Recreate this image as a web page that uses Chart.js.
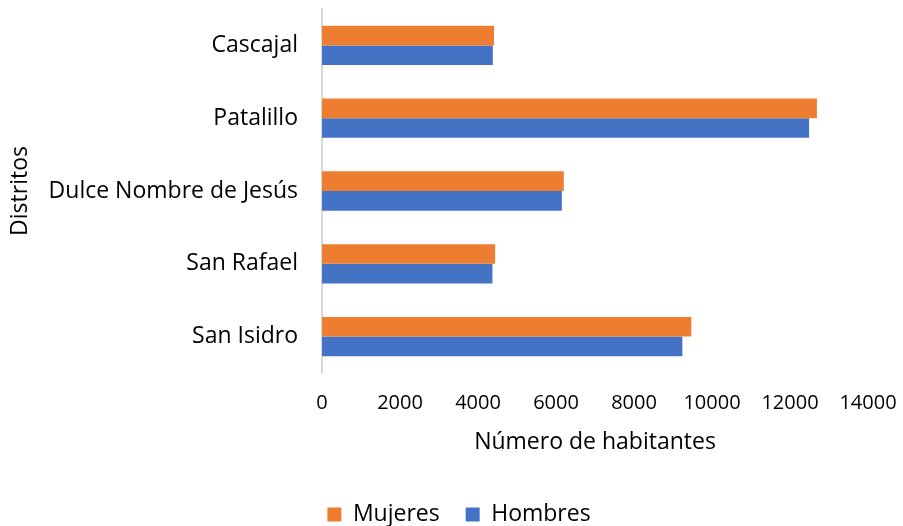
<!DOCTYPE html>
<html>
<head>
<meta charset="utf-8">
<script src="https://cdn.jsdelivr.net/npm/chart.js@4/dist/chart.umd.min.js"></script>
<style>
html,body{margin:0;padding:0;background:#fff;}
#wrap{width:903px;height:526px;}
</style>
</head>
<body>
<div id="wrap"><canvas id="c" width="903" height="526"></canvas></div>
<script>
const categories = ["Cascajal", "Patalillo", "Dulce Nombre de Jesús", "San Rafael", "San Isidro"];
const mujeres = [4410, 12690, 6200, 4440, 9470];
const hombres = [4380, 12490, 6150, 4370, 9240];
const seriesNames = ["Mujeres", "Hombres"];
const xTitle = "Número de habitantes";
const yTitle = "Distritos";

const FONT = "'Open Sans', sans-serif";
Chart.defaults.font.family = FONT;
Chart.defaults.color = "#000";

const shiftLegend = {
  id: "shiftLegend",
  afterLayout: function (chart) {
    if (chart.legend) { chart.legend.left += 25; chart.legend.right += 25; }
  }
};

new Chart(document.getElementById("c"), {
  type: "bar",
  data: {
    labels: categories,
    datasets: [
      { label: seriesNames[0], data: mujeres, backgroundColor: "#ED7D31", categoryPercentage: 0.54, barPercentage: 1.0 },
      { label: seriesNames[1], data: hombres, backgroundColor: "#4472C4", categoryPercentage: 0.54, barPercentage: 1.0 }
    ]
  },
  plugins: [shiftLegend],
  options: {
    indexAxis: "y",
    responsive: false,
    animation: false,
    layout: { padding: { top: 9, right: 35, left: 0, bottom: -10 } },
    scales: {
      x: {
        min: 0, max: 14000,
        grid: { display: false, drawTicks: false },
        border: { display: false },
        ticks: {
          stepSize: 2000, padding: 18, font: { size: 20 }, color: "#000", maxRotation: 0,
          callback: function (v) { return String(v); }
        },
        title: { display: true, text: xTitle, font: { size: 23 }, color: "#000", padding: { top: 4, bottom: 21 } },
        afterFit: function (s) { s.height = 104; s.paddingLeft = 0; s.paddingRight = 0; }
      },
      y: {
        grid: { display: false, drawTicks: false },
        border: { display: true, color: "#d9d9d9", width: 2 },
        ticks: { padding: 24, font: { size: 23 }, color: "#000" },
        title: { display: true, text: yTitle, font: { size: 23 }, color: "#000", padding: { top: 7, bottom: 0 } },
        afterFit: function (s) { s.width = 322; s.paddingTop = 0; s.paddingBottom = 0; }
      }
    },
    plugins: {
      legend: {
        position: "bottom",
        labels: { boxWidth: 14, boxHeight: 14, padding: 26, font: { size: 23 }, color: "#000" }
      },
      tooltip: { enabled: false }
    }
  }
});
</script>
</body>
</html>
